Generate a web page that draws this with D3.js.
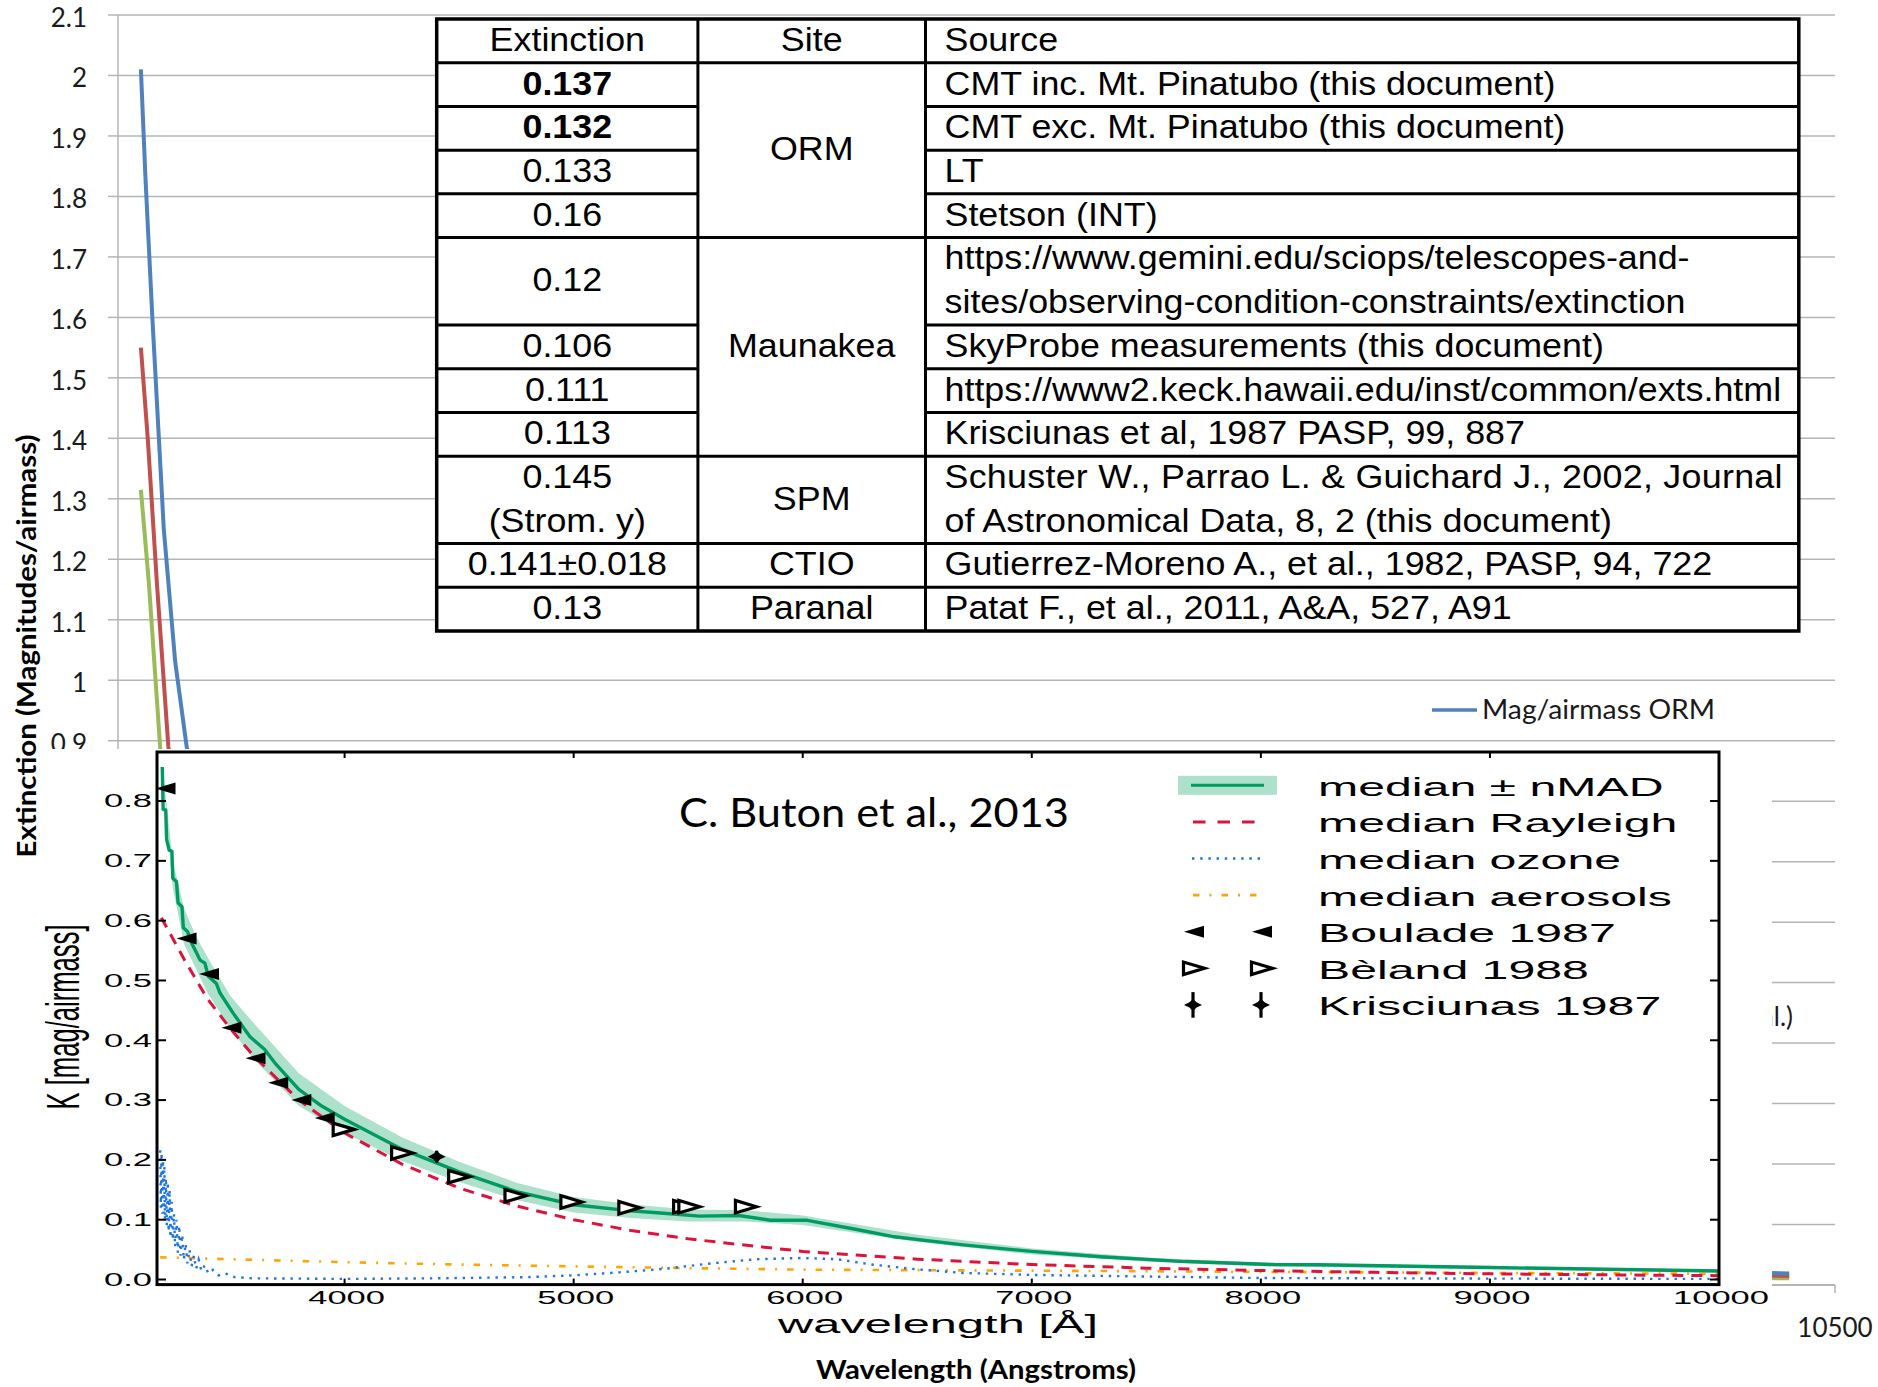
<!DOCTYPE html>
<html>
<head>
<meta charset="utf-8">
<script src="https://cdn.jsdelivr.net/npm/d3@7"></script>
<style>
  html, body { margin: 0; padding: 0; background: #ffffff; }
  svg { display: block; }
</style>
</head>
<body>
<svg id="fig" width="1878" height="1387"></svg>
<script>
// ================= DATA =================

// Background chart: extinction (mag/airmass) against wavelength (Angstroms)
const bgXTicks = [3000, 4500, 6000, 7500, 9000, 10500];
const bgXLabelled = [10500];
const bgYTicks = [0, 0.1, 0.2, 0.3, 0.4, 0.5, 0.6, 0.7, 0.8, 0.9, 1, 1.1, 1.2, 1.3, 1.4, 1.5, 1.6, 1.7, 1.8, 1.9, 2, 2.1];
const bgSeriesNames = ["Mag/airmass ORM", "Mag/airmass Maunakea", "Mag/airmass Paranal (Patat et al.)"];
const bgSeriesColors = ["#4f81bd", "#c0504d", "#9bbb59"];
const ormWl = [3100, 3120, 3150, 3200, 3250, 3300, 3400, 3500, 3700, 4000, 4500, 5000, 6000, 7000, 8000, 9000, 10300];
const ormK  = [2.01, 1.83, 1.60, 1.25, 1.03, 0.89, 0.74, 0.62, 0.46, 0.32, 0.21, 0.15, 0.09, 0.06, 0.04, 0.03, 0.019];
const maunakeaWl = [3100, 3130, 3170, 3220, 3300, 3400, 3500, 3700, 4000, 4500, 5000, 6000, 7000, 8000, 9000, 10300];
const maunakeaK  = [1.55, 1.40, 1.16, 0.89, 0.72, 0.60, 0.51, 0.39, 0.28, 0.19, 0.13, 0.08, 0.05, 0.035, 0.025, 0.015];
const paranalWl = [3100, 3135, 3185, 3300, 3400, 3500, 3700, 4000, 4500, 5000, 6000, 7000, 8000, 9000, 10300];
const paranalK  = [1.315, 1.16, 0.885, 0.66, 0.55, 0.47, 0.36, 0.26, 0.17, 0.12, 0.07, 0.045, 0.03, 0.02, 0.011];

// Table of literature extinction values
const tableHeader = ["Extinction", "Site", "Source"];
const extinctionLines = [["0.137"], ["0.132"], ["0.133"], ["0.16"], ["0.12"], ["0.106"], ["0.111"], ["0.113"], ["0.145", "(Strom. y)"], ["0.141±0.018"], ["0.13"]];
const extinctionSpans = [1, 1, 1, 1, 2, 1, 1, 1, 2, 1, 1];
const extinctionBold = [true, true, false, false, false, false, false, false, false, false, false];
const siteNames = ["ORM", "Maunakea", "SPM", "CTIO", "Paranal"];
const siteSpans = [4, 5, 2, 1, 1];
const sourceLines = [
  ["CMT inc. Mt. Pinatubo (this document)"],
  ["CMT exc. Mt. Pinatubo (this document)"],
  ["LT"],
  ["Stetson (INT)"],
  ["https://www.gemini.edu/sciops/telescopes-and-", "sites/observing-condition-constraints/extinction"],
  ["SkyProbe measurements (this document)"],
  ["https://www2.keck.hawaii.edu/inst/common/exts.html"],
  ["Krisciunas et al, 1987 PASP, 99, 887"],
  ["Schuster W., Parrao L. & Guichard J., 2002, Journal", "of Astronomical Data, 8, 2 (this document)"],
  ["Gutierrez-Moreno A., et al., 1982, PASP, 94, 722"],
  ["Patat F., et al., 2011, A&A, 527, A91"]
];

// Inset: C. Buton et al. (2013) extinction components
const insetXTicks = [4000, 5000, 6000, 7000, 8000, 9000, 10000];
const insetYTicks = [0.0, 0.1, 0.2, 0.3, 0.4, 0.5, 0.6, 0.7, 0.8];
const medianWl = [3204, 3208, 3219, 3223, 3234, 3246, 3250, 3266, 3273, 3290, 3296, 3314, 3333, 3354, 3369, 3390, 3405, 3440, 3456, 3514, 3587, 3650, 3700, 3800, 3900, 4000, 4250, 4500, 4750, 5000, 5250, 5350, 5550, 5720, 5860, 6020, 6230, 6390, 6700, 7000, 7300, 7670, 8060, 8250, 9000, 10000];
const medianK  = [0.857, 0.786, 0.785, 0.736, 0.718, 0.716, 0.671, 0.665, 0.630, 0.623, 0.588, 0.582, 0.562, 0.546, 0.534, 0.529, 0.507, 0.495, 0.479, 0.445, 0.406, 0.385, 0.360, 0.318, 0.290, 0.268, 0.218, 0.180, 0.147, 0.125, 0.1147, 0.112, 0.106, 0.107, 0.099, 0.099, 0.084, 0.072, 0.058, 0.047, 0.038, 0.030, 0.025, 0.0246, 0.020, 0.0142];
const bandWl = [3204, 3250, 3300, 3350, 3400, 3500, 3600, 3800, 4000, 4250, 4500, 4750, 5000, 5250, 5500, 5750, 6000, 6250, 6500, 7000, 7500, 8000, 9000, 10000];
const bandLo = [0.850, 0.655, 0.560, 0.520, 0.480, 0.420, 0.370, 0.290, 0.245, 0.198, 0.163, 0.133, 0.112, 0.103, 0.097, 0.097, 0.091, 0.077, 0.063, 0.042, 0.030, 0.022, 0.0175, 0.0123];
const bandHi = [0.862, 0.700, 0.620, 0.575, 0.540, 0.475, 0.430, 0.345, 0.290, 0.238, 0.197, 0.162, 0.138, 0.126, 0.117, 0.116, 0.107, 0.091, 0.075, 0.052, 0.037, 0.028, 0.0225, 0.0162];
const rayleighWl = [3200, 3300, 3400, 3500, 3600, 3800, 4000, 4250, 4500, 4750, 5000, 5250, 5500, 6000, 6500, 7000, 7500, 8000, 8500, 9000, 9500, 10000];
const rayleighK  = [0.605, 0.535, 0.470, 0.420, 0.375, 0.300, 0.245, 0.193, 0.153, 0.123, 0.100, 0.082, 0.068, 0.047, 0.034, 0.025, 0.019, 0.015, 0.012, 0.0095, 0.0078, 0.0065];
const ozoneWl = [3195, 3198, 3201, 3204, 3207, 3210, 3213, 3216, 3220, 3224, 3228, 3232, 3236, 3240, 3245, 3250, 3255, 3260, 3266, 3272, 3278, 3284, 3291, 3298, 3306, 3314, 3323, 3332, 3342, 3352, 3363, 3375, 3390, 3405, 3425, 3450, 3480, 3520, 3600, 4000, 4400, 4600, 4800, 5000, 5200, 5400, 5600, 5800, 6000, 6150, 6300, 6500, 6700, 7000, 7500, 8000, 9000, 10000];
const ozoneK  = [0.216, 0.120, 0.212, 0.110, 0.200, 0.105, 0.190, 0.100, 0.170, 0.090, 0.163, 0.080, 0.150, 0.070, 0.130, 0.066, 0.110, 0.055, 0.100, 0.045, 0.090, 0.040, 0.075, 0.033, 0.060, 0.027, 0.050, 0.022, 0.040, 0.018, 0.033, 0.014, 0.024, 0.010, 0.016, 0.007, 0.010, 0.004, 0.002, 0.001, 0.002, 0.003, 0.004, 0.007, 0.012, 0.018, 0.027, 0.034, 0.036, 0.034, 0.025, 0.017, 0.011, 0.0077, 0.005, 0.0025, 0.0015, 0.001];
const aerosolWl = [3195, 3500, 4000, 4500, 5000, 5500, 6000, 7000, 8000, 9000, 10000];
const aerosolK  = [0.037, 0.034, 0.029, 0.025, 0.022, 0.019, 0.0165, 0.0148, 0.0128, 0.011, 0.0095];
const bouladeWl = [3218, 3310, 3408, 3506, 3611, 3710, 3811, 3913];
const bouladeK  = [0.821, 0.570, 0.511, 0.421, 0.370, 0.329, 0.300, 0.270];
const belandWl = [3996, 4251, 4500, 4746, 4990, 5243, 5482, 5505, 5752];
const belandK  = [0.251, 0.2115, 0.172, 0.140, 0.1296, 0.120, 0.1217, 0.1217, 0.1217];
const krisciunasWl = [4402];
const krisciunasK  = [0.2054];
const krisciunasErr = [0.010];
const insetLegendLabels = ["median ± nMAD", "median Rayleigh", "median ozone", "median aerosols", "Boulade 1987", "Bèland 1988", "Krisciunas 1987"];

// ================= DRAWING =================
const svg = d3.select("#fig");
svg.append("rect").attr("width", 1878).attr("height", 1387).attr("fill", "#ffffff");
const defs = svg.append("defs");

// text helper: places a text at (x,y) with optional rotation and anisotropic scaling
function addText(parent, x, y, str, o) {
  o = o || {};
  let tr = `translate(${x},${y})`;
  if (o.rotate) tr += ` rotate(${o.rotate})`;
  if ((o.sx || 1) !== 1 || (o.sy || 1) !== 1) tr += ` scale(${o.sx || 1},${o.sy || 1})`;
  const t = parent.append("text")
    .attr("transform", tr)
    .attr("x", 0).attr("y", o.dy || 0)
    .attr("font-family", o.family || "Liberation Sans, Arial, sans-serif")
    .attr("font-size", o.size || 20)
    .attr("font-weight", o.weight || "normal")
    .attr("text-anchor", o.anchor || "start")
    .attr("fill", o.fill || "#000")
    .text(str);
  if (o.textLength) t.attr("textLength", o.textLength).attr("lengthAdjust", o.adjust || "spacingAndGlyphs");
  return t;
}

// ---------- background chart ----------
const bg = svg.append("g");
const xBg = d3.scaleLinear().domain([3000, 10500]).range([118, 1835]);
const yBg = d3.scaleLinear().domain([0, 2.1]).range([1285, 15]);
const gridColor = "#b5b5b5";
const calibriLike = "Lato, 'Open Sans', sans-serif";

bg.selectAll("line.grid").data(bgYTicks.filter(v => v > 0)).join("line")
  .attr("x1", xBg.range()[0]).attr("x2", xBg.range()[1])
  .attr("y1", d => yBg(d)).attr("y2", d => yBg(d))
  .attr("stroke", gridColor).attr("stroke-width", 1.5);
bg.selectAll("line.ytick").data(bgYTicks).join("line")
  .attr("x1", xBg.range()[0] - 10).attr("x2", xBg.range()[0])
  .attr("y1", d => yBg(d)).attr("y2", d => yBg(d))
  .attr("stroke", gridColor).attr("stroke-width", 1.5);
bg.append("line").attr("x1", xBg.range()[0]).attr("x2", xBg.range()[0])
  .attr("y1", yBg(2.1)).attr("y2", yBg(0)).attr("stroke", gridColor).attr("stroke-width", 1.5);
bg.append("line").attr("x1", xBg.range()[0]).attr("x2", xBg.range()[1])
  .attr("y1", yBg(0)).attr("y2", yBg(0)).attr("stroke", gridColor).attr("stroke-width", 1.8);
bg.selectAll("line.xtick").data(bgXTicks).join("line")
  .attr("x1", d => xBg(d)).attr("x2", d => xBg(d))
  .attr("y1", yBg(0)).attr("y2", yBg(0) + 8)
  .attr("stroke", gridColor).attr("stroke-width", 1.5);

const fmtBg = v => String(+v.toFixed(1));
bgYTicks.filter(v => v >= 0.9).forEach(v => addText(bg, 87, yBg(v) + 12, fmtBg(v), { family: calibriLike, size: 26, anchor: "end", fill: "#1a1a1a" }));
bgXLabelled.forEach(v => addText(bg, xBg(v), 1337, String(v), { family: calibriLike, size: 26, anchor: "middle", fill: "#1a1a1a" }));

const bgLine = d3.line().x(d => xBg(d[0])).y(d => yBg(d[1]));
const bgSeries = [d3.zip(ormWl, ormK), d3.zip(maunakeaWl, maunakeaK), d3.zip(paranalWl, paranalK)];
[2, 1, 0].forEach(idx => {
  bg.append("path").attr("d", bgLine(bgSeries[idx])).attr("fill", "none")
    .attr("stroke", bgSeriesColors[idx]).attr("stroke-width", 4).attr("stroke-linejoin", "round");
});

// legend of the background chart; the lower entries sit under the inset,
// only the tail of the last label pokes out at its right edge
defs.append("clipPath").attr("id", "bgLegendClip").append("rect")
  .attr("x", 1772).attr("y", 749).attr("width", 120).attr("height", 600);
const bgLegendY = [710, 863, 1017];
const bgLegend = bg.append("g");
bgLegend.append("line").attr("x1", 1432).attr("x2", 1477).attr("y1", bgLegendY[0]).attr("y2", bgLegendY[0])
  .attr("stroke", bgSeriesColors[0]).attr("stroke-width", 3.5);
addText(bgLegend, 1482, bgLegendY[0] + 9, bgSeriesNames[0], { family: calibriLike, size: 26, fill: "#1a1a1a", textLength: 233 });
const lastName = bgSeriesNames[2];
addText(bgLegend.append("g").attr("clip-path", "url(#bgLegendClip)"), 1793, bgLegendY[2] + 9,
  lastName.slice(lastName.lastIndexOf(" ") + 1), { family: calibriLike, size: 26, fill: "#1a1a1a", anchor: "end" });

addText(bg, 36, 646, "Extinction (Magnitudes/airmass)", { family: calibriLike, size: 26, weight: "bold", anchor: "middle", rotate: -90, textLength: 423 });
addText(bg, 976, 1379, "Wavelength (Angstroms)", { family: calibriLike, size: 26, weight: "bold", anchor: "middle", textLength: 320 });

// ---------- table ----------
const tb = svg.append("g");
const colX = [436.7, 697.9, 925.5, 1798.8];
const tTop = 19, tBottom = 631, nUnits = 14;
const unit = (tBottom - tTop) / nUnits;
const rowY = k => tTop + k * unit;
const tFont = "Liberation Sans, Arial, Helvetica, sans-serif";
const tSize = 33.5, tSx = 1.07, tBase = 10;

tb.append("rect").attr("x", colX[0]).attr("y", tTop).attr("width", colX[3] - colX[0]).attr("height", tBottom - tTop)
  .attr("fill", "#fff").attr("stroke", "#000").attr("stroke-width", 3.5);
[colX[1], colX[2]].forEach(x => tb.append("line").attr("x1", x).attr("x2", x).attr("y1", tTop).attr("y2", tBottom)
  .attr("stroke", "#000").attr("stroke-width", 3));

const colCenter0 = (colX[0] + colX[1]) / 2, colCenter1 = (colX[1] + colX[2]) / 2, srcX = colX[2] + 19;
addText(tb, colCenter0, rowY(0.5) + tBase, tableHeader[0], { family: tFont, size: tSize, anchor: "middle", sx: tSx });
addText(tb, colCenter1, rowY(0.5) + tBase, tableHeader[1], { family: tFont, size: tSize, anchor: "middle", sx: tSx });
addText(tb, srcX, rowY(0.5) + tBase, tableHeader[2], { family: tFont, size: tSize, sx: tSx });
tb.append("line").attr("x1", colX[0]).attr("x2", colX[3]).attr("y1", rowY(1)).attr("y2", rowY(1)).attr("stroke", "#000").attr("stroke-width", 3);

// extinction + source columns
let k = 1;
extinctionLines.forEach((lines, i) => {
  const span = extinctionSpans[i];
  if (lines.length === 1) {
    addText(tb, colCenter0, rowY(k + span / 2) + tBase, lines[0], { family: tFont, size: tSize, anchor: "middle", sx: tSx, weight: extinctionBold[i] ? "bold" : "normal" });
  } else {
    lines.forEach((ln, j) => addText(tb, colCenter0, rowY(k + j + 0.5) + tBase, ln, { family: tFont, size: tSize, anchor: "middle", sx: tSx }));
  }
  const src = sourceLines[i];
  if (src.length === 1) {
    addText(tb, srcX, rowY(k + span / 2) + tBase, src[0], { family: tFont, size: tSize, sx: tSx });
  } else {
    src.forEach((ln, j) => {
      const justify = ln.endsWith("Journal");
      addText(tb, srcX, rowY(k + j + 0.5) + tBase, ln, { family: tFont, size: tSize, sx: tSx,
        textLength: justify ? 838 / tSx : null, adjust: "spacing" });
    });
  }
  k += span;
  if (k < nUnits) {
    tb.append("line").attr("x1", colX[0]).attr("x2", colX[1]).attr("y1", rowY(k)).attr("y2", rowY(k)).attr("stroke", "#000").attr("stroke-width", 3);
    tb.append("line").attr("x1", colX[2]).attr("x2", colX[3]).attr("y1", rowY(k)).attr("y2", rowY(k)).attr("stroke", "#000").attr("stroke-width", 3);
  }
});

// site column
k = 1;
siteNames.forEach((name, i) => {
  const span = siteSpans[i];
  addText(tb, colCenter1, rowY(k + span / 2) + tBase, name, { family: tFont, size: tSize, anchor: "middle", sx: tSx });
  k += span;
  if (k < nUnits) tb.append("line").attr("x1", colX[1]).attr("x2", colX[2]).attr("y1", rowY(k)).attr("y2", rowY(k)).attr("stroke", "#000").attr("stroke-width", 3);
});

// ---------- inset ----------
const inset = svg.append("g");
inset.append("rect").attr("x", 40).attr("y", 749).attr("width", 1772 - 40).attr("height", 1350 - 749).attr("fill", "#fff");

const xIn = d3.scaleLinear().domain([3181, 10000]).range([157, 1719]);
const yIn = d3.scaleLinear().domain([-0.0085, 0.882]).range([1284.6, 752]);
const inSx = 1.92;
const inFont = "Liberation Sans, Arial, Helvetica, sans-serif";

defs.append("clipPath").attr("id", "plotClip").append("rect")
  .attr("x", xIn.range()[0]).attr("y", yIn.range()[1])
  .attr("width", xIn.range()[1] - xIn.range()[0]).attr("height", yIn.range()[0] - yIn.range()[1]);

const plot = inset.append("g").attr("clip-path", "url(#plotClip)");
const C = { band: "#aee1cc", median: "#009a63", rayleigh: "#dc143c", ozone: "#1f74e0", aerosol: "#ffa500" };

const band = d3.zip(bandWl, bandLo, bandHi);
plot.append("path").attr("fill", C.band)
  .attr("d", d3.area().x(d => xIn(d[0])).y0(d => yIn(d[1])).y1(d => yIn(d[2]))(band));

const lineIn = d3.line().x(d => xIn(d[0])).y(d => yIn(d[1]));
plot.append("path").attr("d", lineIn(d3.zip(aerosolWl, aerosolK))).attr("fill", "none")
  .attr("stroke", C.aerosol).attr("stroke-width", 2.6).attr("stroke-dasharray", "6.5,10,2,10");
plot.append("path").attr("d", lineIn(d3.zip(ozoneWl, ozoneK))).attr("fill", "none")
  .attr("stroke", C.ozone).attr("stroke-width", 2.4).attr("stroke-dasharray", "2.4,5.8");
plot.append("path").attr("d", lineIn(d3.zip(rayleighWl, rayleighK))).attr("fill", "none")
  .attr("stroke", C.rayleigh).attr("stroke-width", 3).attr("stroke-dasharray", "11,8");
plot.append("path").attr("d", lineIn(d3.zip(medianWl, medianK))).attr("fill", "none")
  .attr("stroke", C.median).attr("stroke-width", 3.4).attr("stroke-linejoin", "round");

// marker shapes
const triLeft = (w, h) => `M${-w / 2},0L${w / 2},${-h / 2}L${w / 2},${h / 2}Z`;
const triRight = (w, h) => `M${w / 2},0L${-w / 2},${-h / 2}L${-w / 2},${h / 2}Z`;
const star = (w, h) => `M${-w / 2},0L${-w * 0.2},${-h * 0.22}L0,${-h / 2}L${w * 0.2},${-h * 0.22}L${w / 2},0L${w * 0.2},${h * 0.22}L0,${h / 2}L${-w * 0.2},${h * 0.22}Z`;

function drawBoulade(g, x, y) {
  g.append("path").attr("transform", `translate(${x},${y})`).attr("d", triLeft(20, 12)).attr("fill", "#000");
}
function drawBeland(g, x, y) {
  g.append("path").attr("transform", `translate(${x},${y})`).attr("d", triRight(21, 12.5))
    .attr("fill", "#fff").attr("stroke", "#000").attr("stroke-width", 3.2).attr("stroke-linejoin", "miter");
}
function drawKris(g, x, y, halfBar) {
  g.append("line").attr("x1", x).attr("x2", x).attr("y1", y - halfBar).attr("y2", y + halfBar)
    .attr("stroke", "#000").attr("stroke-width", 3.2);
  g.append("path").attr("transform", `translate(${x},${y})`).attr("d", star(18, 12)).attr("fill", "#000");
}

bouladeWl.forEach((w, i) => drawBoulade(plot, xIn(w), yIn(bouladeK[i])));
belandWl.forEach((w, i) => drawBeland(plot, xIn(w), yIn(belandK[i])));
krisciunasWl.forEach((w, i) => drawKris(plot, xIn(w), yIn(krisciunasK[i]), yIn(0) - yIn(krisciunasErr[i])));

// frame and ticks
inset.append("rect").attr("x", xIn.range()[0]).attr("y", yIn.range()[1])
  .attr("width", xIn.range()[1] - xIn.range()[0]).attr("height", yIn.range()[0] - yIn.range()[1])
  .attr("fill", "none").attr("stroke", "#000").attr("stroke-width", 3);
insetYTicks.forEach(v => {
  const y = yIn(v);
  inset.append("line").attr("x1", xIn.range()[0]).attr("x2", xIn.range()[0] + 9).attr("y1", y).attr("y2", y).attr("stroke", "#000").attr("stroke-width", 2);
  inset.append("line").attr("x1", xIn.range()[1] - 9).attr("x2", xIn.range()[1]).attr("y1", y).attr("y2", y).attr("stroke", "#000").attr("stroke-width", 2);
  addText(inset, 152, y + 6.4, v.toFixed(1), { family: inFont, size: 18, anchor: "end", sx: inSx });
});
insetXTicks.forEach(v => {
  const x = xIn(v);
  inset.append("line").attr("x1", x).attr("x2", x).attr("y1", yIn.range()[1]).attr("y2", yIn.range()[1] + 6).attr("stroke", "#000").attr("stroke-width", 2);
  inset.append("line").attr("x1", x).attr("x2", x).attr("y1", yIn.range()[0] - 6).attr("y2", yIn.range()[0]).attr("stroke", "#000").attr("stroke-width", 2);
  addText(inset, x + 2, 1304, String(v), { family: inFont, size: 18, anchor: "middle", sx: inSx });
});

addText(inset, 938, 1333, "wavelength [Å]", { family: inFont, size: 25.4, anchor: "middle", sx: inSx });
addText(inset, 67, 1017, "K [mag/airmass]", { family: "Liberation Sans Narrow, Liberation Sans, Arial, sans-serif", size: 24.5, anchor: "middle", rotate: -90, sx: 1, sy: 1.9, dy: 6.4, textLength: 185 });
addText(inset, 679, 827, "C. Buton et al., 2013", { family: calibriLike, size: 40, textLength: 390 });

// inset legend
const legY0 = 785.3, legDy = 36.6;
const legX1 = 1191, legX2 = 1264, mk1 = 1194, mk2 = 1262, legTextX = 1318;
const lg = inset.append("g");
insetLegendLabels.forEach((lab, i) => {
  const y = legY0 + i * legDy;
  if (i === 0) {
    lg.append("rect").attr("x", 1178).attr("y", y - 9.5).attr("width", 99).attr("height", 19).attr("fill", C.band);
    lg.append("line").attr("x1", legX1).attr("x2", legX2).attr("y1", y).attr("y2", y).attr("stroke", C.median).attr("stroke-width", 3);
  } else if (i === 1) {
    lg.append("line").attr("x1", 1193).attr("x2", 1256).attr("y1", y).attr("y2", y).attr("stroke", C.rayleigh).attr("stroke-width", 3).attr("stroke-dasharray", "12.5,12");
  } else if (i === 2) {
    lg.append("line").attr("x1", 1192).attr("x2", 1262).attr("y1", y).attr("y2", y).attr("stroke", C.ozone).attr("stroke-width", 2.4).attr("stroke-dasharray", "2.4,5.8");
  } else if (i === 3) {
    lg.append("line").attr("x1", 1193).attr("x2", 1258).attr("y1", y).attr("y2", y).attr("stroke", C.aerosol).attr("stroke-width", 2.6).attr("stroke-dasharray", "6.5,10,2,10");
  } else if (i === 4) {
    drawBoulade(lg, mk1, y); drawBoulade(lg, mk2, y);
  } else if (i === 5) {
    drawBeland(lg, mk1, y); drawBeland(lg, mk2, y);
  } else {
    drawKris(lg, mk1 - 1, y, 12.8); drawKris(lg, mk2 - 1, y, 12.8);
  }
  addText(lg, legTextX, y + 10.5, lab, { family: inFont, size: 25.4, sx: 1.9 });
});
</script>
</body>
</html>
